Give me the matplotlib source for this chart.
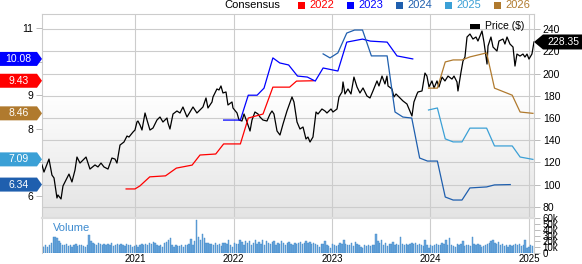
import numpy as np
import pandas as pd
import matplotlib
matplotlib.use("Agg")
import matplotlib.pyplot as plt
import matplotlib.transforms as mtransforms
from matplotlib.patches import Polygon, Rectangle

plt.rcParams['font.family'] = ['Liberation Sans', 'DejaVu Sans']

# ---- DATA ----
price_years = [2020.056, 2020.076, 2020.127, 2020.157, 2020.178, 2020.208, 2020.218, 2020.249, 2020.269, 2020.310,
               2020.330, 2020.360, 2020.391, 2020.411, 2020.442, 2020.472, 2020.503, 2020.543, 2020.594, 2020.624,
               2020.655, 2020.685, 2020.726, 2020.766, 2020.797, 2020.817, 2020.848, 2020.888, 2020.919, 2020.939,
               2020.980, 2021.000, 2021.020, 2021.030, 2021.051, 2021.071, 2021.102, 2021.122, 2021.152, 2021.183,
               2021.223, 2021.254, 2021.284, 2021.325, 2021.335, 2021.355, 2021.386, 2021.426, 2021.457, 2021.487,
               2021.528, 2021.558, 2021.589, 2021.629, 2021.660, 2021.690, 2021.721, 2021.741, 2021.782, 2021.792,
               2021.832, 2021.853, 2021.873, 2021.893, 2021.924, 2021.944, 2021.985, 2021.995, 2022.036, 2022.056,
               2022.086, 2022.107, 2022.137, 2022.168, 2022.188, 2022.218, 2022.249, 2022.269, 2022.299, 2022.340,
               2022.371, 2022.391, 2022.411, 2022.442, 2022.472, 2022.503, 2022.543, 2022.594, 2022.614, 2022.645,
               2022.675, 2022.706, 2022.736, 2022.756, 2022.777, 2022.807, 2022.838, 2022.858, 2022.898, 2022.929,
               2022.949, 2022.990, 2023.010, 2023.051, 2023.071, 2023.102, 2023.112, 2023.132, 2023.162, 2023.193,
               2023.223, 2023.254, 2023.284, 2023.315, 2023.355, 2023.386, 2023.416, 2023.457, 2023.477, 2023.508,
               2023.538, 2023.558, 2023.569, 2023.609, 2023.629, 2023.650, 2023.680, 2023.721, 2023.761, 2023.782,
               2023.812, 2023.832, 2023.863, 2023.873, 2023.914, 2023.944, 2023.964, 2023.985, 2024.015, 2024.036,
               2024.066, 2024.086, 2024.117, 2024.147, 2024.178, 2024.218, 2024.239, 2024.269, 2024.279, 2024.310,
               2024.330, 2024.350, 2024.371, 2024.401, 2024.431, 2024.462, 2024.482, 2024.523, 2024.543, 2024.574,
               2024.584, 2024.614, 2024.635, 2024.675, 2024.695, 2024.736, 2024.756, 2024.777, 2024.807, 2024.838,
               2024.858, 2024.878, 2024.909, 2024.939, 2024.959, 2024.980, 2025.000, 2025.030, 2025.051]
price = [117.8, 111.4, 123.1, 108.7, 106.1, 88.1, 90.8, 87.2, 98.9, 106.1,
         109.6, 102.5, 113.2, 124.9, 119.5, 122.2, 124.9, 114.1, 117.8, 116.0,
         119.5, 116.0, 114.1, 124.0, 123.1, 119.5, 135.7, 138.4, 143.8, 142.9,
         147.4, 149.2, 156.4, 157.3, 153.7, 149.2, 164.5, 158.2, 149.2, 151.0,
         158.2, 160.9, 156.4, 160.0, 155.5, 150.1, 163.6, 166.3, 164.5, 169.9,
         160.9, 165.4, 169.9, 164.5, 167.2, 169.9, 178.0, 169.0, 174.4, 178.9,
         186.1, 185.2, 188.8, 182.5, 183.4, 171.7, 174.4, 169.0, 164.5, 158.2,
         157.3, 163.6, 156.4, 148.3, 158.2, 165.4, 163.6, 160.9, 158.2, 157.3,
         163.6, 166.3, 163.6, 148.3, 144.7, 154.6, 166.3, 178.9, 174.4, 156.4,
         150.1, 151.9, 141.1, 142.9, 138.4, 142.9, 165.4, 163.6, 168.1, 166.3,
         164.5, 168.1, 165.4, 168.1, 178.9, 183.4, 192.4, 181.6, 186.1, 181.6,
         196.8, 187.9, 182.5, 187.0, 179.8, 178.0, 184.3, 193.3, 188.8, 197.7,
         190.6, 197.7, 188.8, 186.1, 178.9, 181.6, 178.9, 175.3, 172.6, 168.1,
         161.8, 174.4, 181.6, 183.4, 184.3, 200.4, 197.7, 187.9, 193.3, 187.0,
         193.3, 187.9, 196.8, 193.3, 197.7, 195.0, 197.7, 192.4, 184.3, 201.3,
         211.2, 214.8, 232.8, 235.5, 231.0, 232.8, 229.2, 238.2, 228.3, 208.5,
         224.7, 232.8, 223.8, 220.2, 229.2, 231.0, 226.5, 232.8, 226.5, 223.8,
         206.7, 217.5, 215.7, 217.5, 214.8, 217.5, 213.0, 217.5, 228.35]

eps_2022_years = [2020.91, 2021.00, 2021.05, 2021.15, 2021.31, 2021.42, 2021.58, 2021.66, 2021.82, 2021.90,
                  2022.07, 2022.15, 2022.30, 2022.40, 2022.57, 2022.64, 2022.81]
eps_2022 = [6.21, 6.21, 6.30, 6.57, 6.60, 6.83, 6.92, 7.22, 7.25, 7.55, 7.55, 8.32, 8.44, 9.24, 9.24, 9.42, 9.43]

eps_2023_years = [2021.90, 2022.07, 2022.15, 2022.24, 2022.31, 2022.40, 2022.47, 2022.56, 2022.65, 2022.75,
                  2022.83, 2022.91, 2023.06, 2023.15, 2023.31, 2023.39, 2023.56, 2023.66, 2023.82]
eps_2023 = [8.26, 8.26, 9.00, 9.00, 9.21, 10.11, 9.96, 9.90, 9.57, 9.54,
            9.42, 9.81, 9.72, 10.58, 10.67, 10.61, 10.58, 10.17, 10.08]

eps_2024_years = [2022.91, 2022.98, 2023.06, 2023.15, 2023.23, 2023.31, 2023.40, 2023.56, 2023.64, 2023.72,
                  2023.81, 2023.89, 2023.97, 2024.07, 2024.15, 2024.23, 2024.32, 2024.40, 2024.57, 2024.65, 2024.81]
eps_2024 = [10.23, 10.11, 10.26, 10.85, 10.94, 10.94, 10.17, 10.17, 8.50, 8.35,
            8.32, 7.13, 7.04, 7.04, 5.97, 5.88, 5.88, 6.24, 6.27, 6.33, 6.34]

eps_2025_years = [2023.98, 2024.07, 2024.15, 2024.23, 2024.32, 2024.40, 2024.57, 2024.65, 2024.83, 2024.91, 2025.04]
eps_2025 = [8.56, 8.62, 7.70, 7.61, 7.61, 8.02, 8.02, 7.49, 7.49, 7.16, 7.09]

eps_2026_years = [2023.98, 2024.07, 2024.15, 2024.23, 2024.32, 2024.40, 2024.57, 2024.65, 2024.83, 2024.91, 2025.04]
eps_2026 = [9.21, 9.21, 9.99, 10.05, 10.05, 10.14, 10.26, 9.21, 9.00, 8.50, 8.46]

# weekly volume, thousands of shares
volume = [12, 10, 13, 11, 14, 18, 28, 27, 26, 20, 17, 14, 13, 15, 12, 14, 11,
          13, 15, 12, 14, 13, 12, 10, 14, 31, 20, 18, 16, 14, 17, 15, 13, 16, 14,
          15, 13, 17, 12, 14, 15, 13, 16, 14, 12, 15, 13, 14, 11,
          12, 13, 11, 14, 15, 13, 16, 14, 18, 16, 19, 17, 13, 12, 14, 11, 17, 19, 22, 25,
          14, 11, 13, 12, 12, 13, 11, 14, 13, 16, 24, 14, 20, 56, 27, 22, 33, 25,
          18, 17, 15, 16, 14, 17, 13, 15, 12, 17, 18, 16, 23, 14,
          11, 17, 16, 15, 23, 19, 14, 21, 17, 20, 14, 18, 23, 15, 19, 16, 22, 14, 20, 18,
          15, 19, 21, 14, 17, 15, 21, 18, 14, 17, 19, 16, 14, 18, 15, 17, 19, 16, 18,
          20, 17, 19, 16, 18, 15, 14, 10, 16, 15, 21, 13, 12,
          8, 15, 13, 12, 14, 17, 15, 22, 16, 13, 14, 17, 12, 19, 15, 13, 11, 9, 14, 12,
          13, 12, 14, 13, 33, 20, 17, 22, 14, 18, 12, 16, 15, 19, 13, 16, 14, 27, 15, 13,
          16, 14, 15, 17, 16, 18, 14, 15, 13, 12, 22, 14,
          8, 13, 12, 14, 15, 13, 14, 17, 15, 22, 14, 25, 13, 12, 10, 16, 14, 15, 20, 12,
          13, 14, 12, 27, 15, 13, 16, 14, 10, 12, 13, 15, 18, 20, 23, 17, 16, 19, 14, 15,
          12, 14, 11, 13, 12, 14, 15, 13, 16, 12, 14, 22,
          9, 10, 14, 12]

eps_badges = [(10.08, '#0000ff'), (9.43, '#ff0000'), (8.46, '#b07a2e'), (7.09, '#3ba0d6'), (6.34, '#1f5fae')]
last_price = 228.35
series_names = ['2022', '2023', '2024', '2025', '2026']
series_colors = ['#ff0000', '#0000ff', '#1f5fae', '#3ba0d6', '#b07a2e']
eps_tick_labels = ['6', '', '8', '9', '', '11']  # 7 and 10 sit under the badges


def to_dates(years):
    years = np.asarray(years, dtype=float)
    return pd.Timestamp("2020-01-01") + pd.to_timedelta((years - 2020) * 365.25, unit="D")


# ---- LAYOUT (pixel based) ----
W, H = 582, 264


def fx(px):
    return px / W


def fy(py):
    return 1 - py / H


fig = plt.figure(figsize=(W / 100, H / 100), dpi=100)
ax = fig.add_axes([fx(42), fy(217), fx(534) - fx(42), fy(14) - fy(217)])
axv = fig.add_axes([fx(42), fy(253), fx(534) - fx(42), fy(218) - fy(253)], sharex=ax)
ax_e = ax.twinx()

grid_c = '#cccccc'
x_lo, x_hi = to_dates([2020.056, 2025.051])
year_ticks = pd.to_datetime(['2021-01-01', '2022-01-01', '2023-01-01', '2024-01-01', '2025-01-01'])

# background gradient, grey at the top fading to white
f = np.linspace(0, 1, 200)
g = 1 - 0.105 * np.clip((f - 0.38) / 0.62, 0, 1)
grad = np.dstack([g, g, g])[::-1].reshape(200, 1, 3)
ax.imshow(grad, extent=[0, 1, 0, 1], transform=ax.transAxes, aspect='auto', zorder=0)

# price
ax.plot(to_dates(price_years), price, color='black', lw=0.9, zorder=3)
ax.set_xlim(x_lo, x_hi)
ax.set_ylim(71.0, 253.5)
ax.set_yticks(range(80, 241, 20))
ax.yaxis.tick_right()
ax.set_xticks(year_ticks)
ax.grid(True, color=grid_c, lw=0.8)
ax.set_axisbelow(True)
ax.tick_params(axis='x', length=0, labelbottom=False)
ax.tick_params(axis='y', length=4.3, width=0.7, color='#bbbbbb', pad=2, labelsize=7.5)
for s in ['top', 'left', 'right']:
    ax.spines[s].set_color(grid_c)
    ax.spines[s].set_linewidth(0.8)
ax.spines['bottom'].set_visible(False)

# consensus EPS lines
eps_years = [eps_2022_years, eps_2023_years, eps_2024_years, eps_2025_years, eps_2026_years]
eps_vals = [eps_2022, eps_2023, eps_2024, eps_2025, eps_2026]
for yrs, vals, c in zip(eps_years, eps_vals, series_colors):
    ax_e.plot(to_dates(yrs), vals, color=c, lw=0.9)
ax_e.set_ylim(5.375, 11.417)
ax_e.set_yticks(range(6, 12))
ax_e.set_yticklabels(eps_tick_labels)
ax_e.yaxis.tick_left()
ax_e.tick_params(axis='y', length=4.3, width=0.7, color='#bbbbbb', pad=2, labelsize=7.5)
for s in ax_e.spines.values():
    s.set_visible(False)

# left EPS badges
tr_e = mtransforms.blended_transform_factory(ax_e.transAxes, ax_e.transData)
axw = 492.0
half_e = 7 * (11.417 - 5.375) / 203.0
l, br = -42 / axw, -5 / axw
for v, c in eps_badges:
    poly = Polygon([(l, v - half_e), (br, v - half_e), (0, v), (br, v + half_e), (l, v + half_e)],
                   closed=True, transform=tr_e, facecolor=c, edgecolor='none', clip_on=False, zorder=6)
    ax_e.add_patch(poly)
    ax_e.text((l + br) / 2, v, f'{v:.2f}', transform=tr_e, color='white', fontsize=7.5,
              ha='center', va='center', zorder=7, clip_on=False)

# right price badge
tr_p = mtransforms.blended_transform_factory(ax.transAxes, ax.transData)
half_p = 7.5 * (253.5 - 71.0) / 203.0
r0, r1 = 1 + 9 / axw, 1 + 48 / axw
ax.add_patch(Polygon([(1.0, last_price), (r0, last_price - half_p), (r1, last_price - half_p),
                      (r1, last_price + half_p), (r0, last_price + half_p)], closed=True, transform=tr_p,
                     facecolor='black', edgecolor='none', clip_on=False, zorder=6))
ax.text((r0 + r1) / 2 + 0.002, last_price, f'{last_price:.2f}', transform=tr_p, color='white',
        fontsize=7.5, ha='center', va='center', zorder=7, clip_on=False)

# price legend inside plot
ax.add_patch(Rectangle(((470 - 42) / axw, (217 - 29) / 203.0), 10 / axw, 5 / 203.0,
                       transform=ax.transAxes, facecolor='black', zorder=5))
ax.text((485 - 42) / axw, (217 - 26) / 203.0, 'Price ($)', transform=ax.transAxes,
        fontsize=7.5, ha='left', va='center', zorder=5)

# volume panel
vol_dates = pd.date_range('2020-01-21', periods=len(volume), freq='7D')
axv.bar(vol_dates, volume, width=5, color='#6aa6dc', edgecolor='#3f88c8', lw=0.3, zorder=2)
axv.set_ylim(0, 60)
axv.set_yticks(range(0, 61, 10))
axv.set_yticklabels(['0', '10k', '20k', '30k', '40k', '50k', '60k'])
axv.yaxis.tick_right()
axv.tick_params(axis='y', length=4.3, width=0.7, color='#bbbbbb', pad=2, labelsize=7)
axv.set_xticks(year_ticks)
axv.set_xticklabels(['2021', '2022', '2023', '2024', '2025'])
axv.tick_params(axis='x', length=0, pad=1, labelsize=7)
axv.grid(True, axis='x', color=grid_c, lw=0.8)
axv.set_axisbelow(True)
axv.set_xlim(x_lo, x_hi)
axv.spines['top'].set_color('#dddddd')
axv.spines['top'].set_linewidth(1.6)
for s in ['left', 'right']:
    axv.spines[s].set_color(grid_c)
    axv.spines[s].set_linewidth(0.8)
axv.spines['bottom'].set_visible(False)
axv.text((53 - 42) / axw, 0.72, 'Volume', transform=axv.transAxes, color='#3d8bd0',
         fontsize=8, ha='left', va='center')

# top legend
fig.text(fx(280), fy(5), 'Consensus', fontsize=8, ha='right', va='center')
for k, (name, c) in enumerate(zip(series_names, series_colors)):
    x0 = 298 + 49 * k
    fig.patches.append(Rectangle((fx(x0), fy(9)), fx(7), 7 / H, transform=fig.transFigure,
                                 facecolor=c, edgecolor='none'))
    fig.text(fx(x0 + 11), fy(5), name, color=c, fontsize=8, ha='left', va='center')

fig.savefig('out.png', dpi=100)
